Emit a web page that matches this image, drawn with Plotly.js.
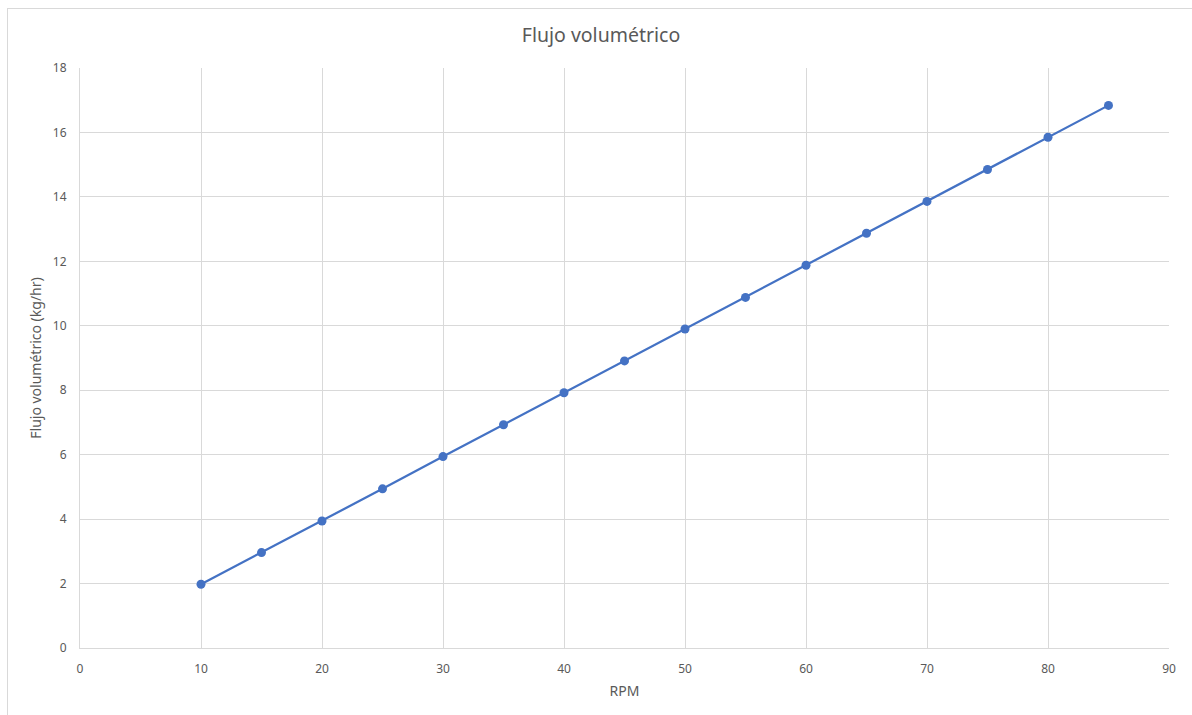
<!DOCTYPE html>
<html>
<head>
<meta charset="utf-8">
<script src="https://cdn.plot.ly/plotly-3.0.1.min.js"></script>
<style>
  html, body { margin: 0; padding: 0; background: #ffffff; overflow: hidden; }
  #wrap { position: relative; width: 1192px; height: 715px; overflow: hidden; }
  #chart { width: 1192px; height: 715px; }
  #frame { position: absolute; left: 7px; top: 8px; width: 1240px; height: 760px;
           border: 1px solid #d9d9d9; pointer-events: none; box-sizing: border-box; }
</style>
</head>
<body>
<div id="wrap">
  <div id="chart"></div>
  <div id="frame"></div>
</div>
<script>
// Rotational speed (RPM) and the measured flow (kg/hr)
const rpm = [10, 15, 20, 25, 30, 35, 40, 45, 50, 55, 60, 65, 70, 75, 80, 85];
const flujo = [1.98, 2.96, 3.94, 4.94, 5.94, 6.93, 7.92, 8.91, 9.90, 10.88, 11.88, 12.87, 13.86, 14.85, 15.85, 16.84];

const chartTitle = 'Flujo volumétrico';
const xTitle = 'RPM';
const yTitle = 'Flujo volumétrico (kg/hr)';

const gray = '#595959';
const grid = '#d9d9d9';
const font = 'Noto Sans, Open Sans, sans-serif';

const trace = {
  x: rpm,
  y: flujo,
  type: 'scatter',
  mode: 'lines+markers',
  line: { color: '#4472C4', width: 2.25 },
  marker: { color: '#4472C4', size: 9 },
  hoverinfo: 'x+y'
};

const layout = {
  width: 1192,
  height: 715,
  margin: { l: 80, r: 23, t: 68, b: 67 },
  paper_bgcolor: '#ffffff',
  plot_bgcolor: '#ffffff',
  showlegend: false,
  font: { family: font, color: gray, size: 12 },
  title: {
    text: chartTitle,
    font: { family: font, size: 19.5, color: gray },
    x: 601 / 1192, xanchor: 'center',
    y: 1 - 35 / 715, yanchor: 'middle'
  },
  xaxis: {
    range: [0, 90],
    dtick: 10,
    tick0: 0,
    showgrid: true,
    gridcolor: grid,
    gridwidth: 1,
    showline: true,
    linecolor: grid,
    linewidth: 1,
    zeroline: false,
    ticks: '',
    ticklabelstandoff: 10,
    tickfont: { size: 12, color: gray },
    title: { text: xTitle, font: { size: 14, color: gray }, standoff: 9 },
    fixedrange: true
  },
  yaxis: {
    range: [0, 18],
    dtick: 2,
    tick0: 0,
    showgrid: true,
    gridcolor: grid,
    gridwidth: 1,
    showline: true,
    linecolor: grid,
    linewidth: 1,
    zeroline: false,
    ticks: '',
    ticklabelstandoff: 10,
    tickfont: { size: 12, color: gray },
    title: { text: yTitle, font: { size: 14, color: gray }, standoff: 7 },
    fixedrange: true
  }
};

Plotly.newPlot('chart', [trace], layout, { displayModeBar: false });
</script>
</body>
</html>
